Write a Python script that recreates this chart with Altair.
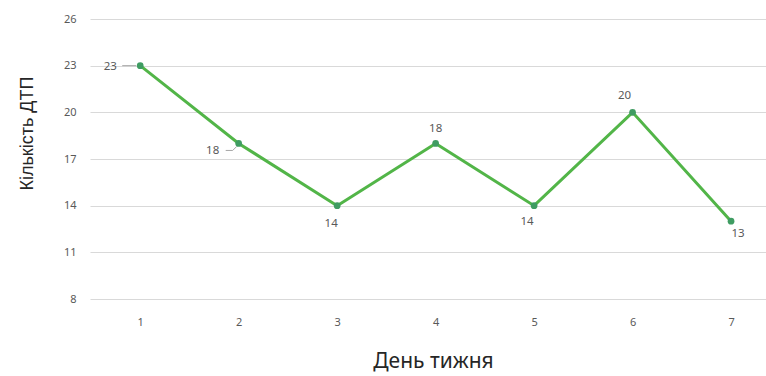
import altair as alt
import pandas as pd

# Road accidents per day of the week
days = [1, 2, 3, 4, 5, 6, 7]
accidents = [23, 18, 14, 18, 14, 20, 13]
y_ticks = [8, 11, 14, 17, 20, 23, 26]

df = pd.DataFrame({"day": days, "count": accidents})

FONT = "Noto Sans"
LINE_GREEN = "#52b548"
POINT_GREEN = "#3f9c62"
LABEL_GREY = "#595959"

x_enc = alt.X(
    "day:Q",
    scale=alt.Scale(domain=[0.49, 7.355], nice=False, zero=False),
    axis=alt.Axis(
        values=days,
        format="d",
        title="День тижня",
        grid=False,
        domain=False,
        ticks=False,
        labelPadding=17,
        labelFontSize=11,
        labelColor=LABEL_GREY,
        labelFont=FONT,
        titleFont=FONT,
        titleFontSize=21,
        titleFontWeight="normal",
        titleColor="#262626",
        titleX=343,
        titleY=62,
        titleBaseline="middle",
    ),
)
y_enc = alt.Y(
    "count:Q",
    scale=alt.Scale(domain=[8, 26], nice=False, zero=False),
    axis=alt.Axis(
        values=y_ticks,
        title="Кількість ДТП",
        grid=True,
        gridColor="#d9d9d9",
        gridWidth=1,
        domain=False,
        ticks=False,
        labelPadding=14,
        labelFontSize=11,
        labelColor=LABEL_GREY,
        labelFont=FONT,
        titleFont="Liberation Sans",
        titleFontSize=18,
        titleFontWeight="normal",
        titleColor="#262626",
        titleX=-63,
        titleY=114,
        titleBaseline="middle",
    ),
)

base = alt.Chart(df).encode(x=x_enc, y=y_enc)

line = base.mark_line(color=LINE_GREEN, strokeWidth=3)
points = base.mark_point(filled=True, size=45, color=POINT_GREEN, opacity=1)

# nudges for the value labels around each point (pixels)
nudge = {1: (-30, 1), 2: (-26, 8), 3: (-6, 18), 4: (0, -14),
         5: (-7, 16), 6: (-8, -16), 7: (7, 13)}

labels = []
for d in days:
    dx, dy = nudge[d]
    labels.append(
        base.transform_filter(alt.datum.day == d)
        .mark_text(dx=dx, dy=dy, fontSize=11.5, font=FONT, color=LABEL_GREY, baseline="middle")
        .encode(text="count:Q")
    )

# short leader lines for the labels set off to the left
lead1 = base.transform_filter(alt.datum.day == 1).mark_rule(
    color="#a6a6a6", strokeWidth=1, xOffset=-18, x2Offset=-4
).encode(x2="day:Q", y2="count:Q")
lead2a = base.transform_filter(alt.datum.day == 2).mark_rule(
    color="#a6a6a6", strokeWidth=1, xOffset=-13, x2Offset=-6, yOffset=7, y2Offset=7
).encode(x2="day:Q", y2="count:Q")
lead2b = base.transform_filter(alt.datum.day == 2).mark_rule(
    color="#a6a6a6", strokeWidth=1, xOffset=-6, x2Offset=-2, yOffset=7, y2Offset=3
).encode(x2="day:Q", y2="count:Q")

chart = (
    alt.layer(line, lead1, lead2a, lead2b, points, *labels)
    .properties(
        width=676,
        height=280,
        autosize=alt.AutoSizeParams(type="none"),
        padding={"left": 90, "top": 19, "right": 0, "bottom": 77},
        background="white",
    )
    .configure_view(stroke=None)
)

chart.save("out.html", embed_options={"renderer": "svg", "actions": False})
